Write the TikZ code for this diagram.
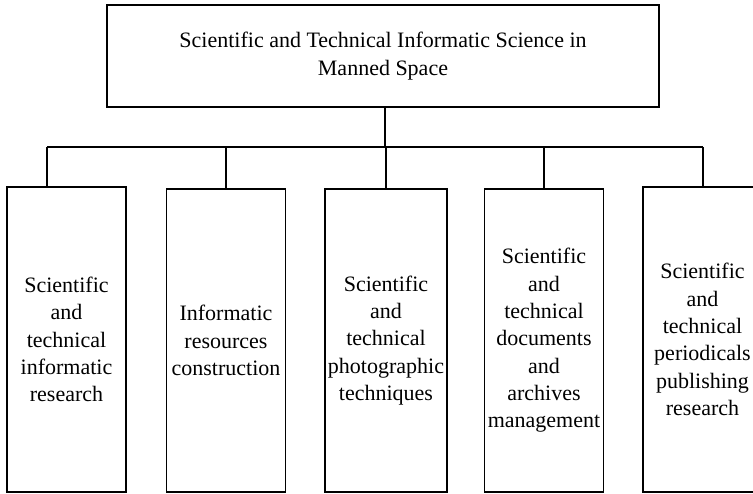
\documentclass[tikz,border=0pt]{standalone}
\usepackage{fontspec}
\setmainfont{Liberation Serif}
\begin{document}
\begin{tikzpicture}[x=1pt,y=-1pt,
  line width=1.3pt,
  boxstyle/.style={draw, rectangle, inner sep=0pt, align=center,
    font=\fontsize{22}{27.3}\selectfont},
  link/.style={draw, line width=1.3pt}]
\useasboundingbox (0,0) rectangle (753,494);
\clip (0,0) rectangle (753,494);
\node[boxstyle, minimum width=552pt, minimum height=102pt,
  font=\fontsize{22}{28.5}\selectfont] (top) at (383,56)
  {Scientific and Technical Informatic Science in\\Manned Space};
\node[boxstyle, minimum width=119pt, minimum height=305pt] (b1) at (66.5,339.5)
  {Scientific\\and\\technical\\informatic\\research};
\node[boxstyle, minimum width=119pt, minimum height=303pt] (b2) at (226,340.5)
  {Informatic\\resources\\construction};
\node[boxstyle, minimum width=122pt, minimum height=303pt] (b3) at (386,340.5)
  {Scientific\\and\\technical\\photographic\\techniques};
\node[boxstyle, minimum width=119pt, minimum height=303pt] (b4) at (544,340.5)
  {Scientific\\and\\technical\\documents\\and\\archives\\management};
\node[boxstyle, minimum width=119pt, minimum height=305pt] (b5) at (702.5,339.5)
  {Scientific\\and\\technical\\periodicals\\publishing\\research};
\coordinate (busL) at (47,147);
\coordinate (busR) at (703,147);
\coordinate (drop) at (385,147);
\draw[link] (busL) -- (busR);
\draw[link] (top.south -| drop) -- (drop);
\draw[link] (busL) -- (busL |- b1.north);
\draw[link] (b2.north |- busL) -- (b2.north);
\draw[link] (b3.north |- busL) -- (b3.north);
\draw[link] (b4.north |- busL) -- (b4.north);
\draw[link] (busR) -- (busR |- b5.north);
\end{tikzpicture}
\end{document}
